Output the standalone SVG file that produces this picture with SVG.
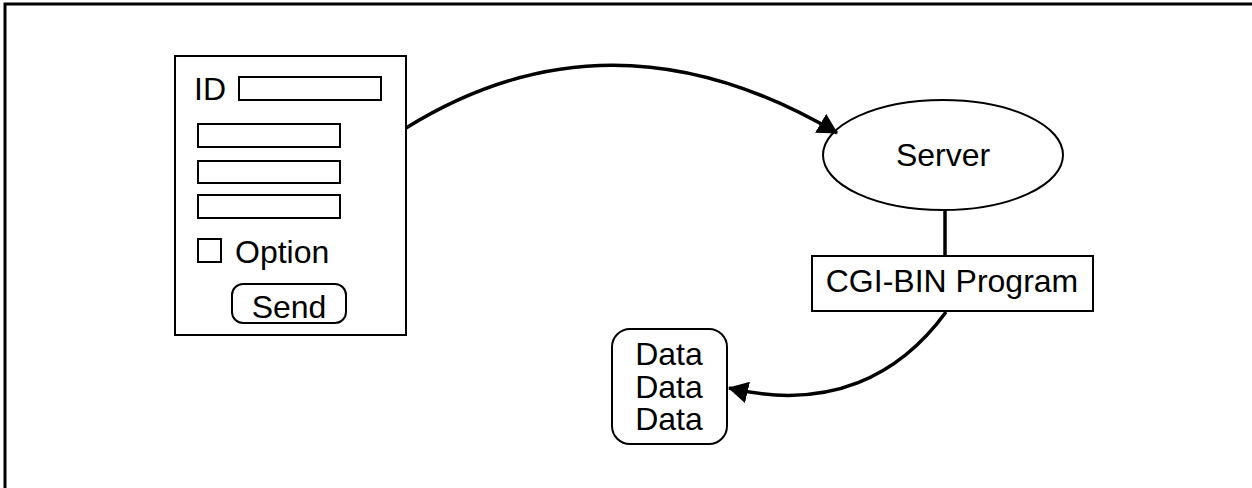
<svg xmlns="http://www.w3.org/2000/svg" width="1252" height="488" viewBox="0 0 1252 488">
  <style>
    .box { fill: #fff; stroke: #000; stroke-width: 2; }
    .field { fill: #fff; stroke: #000; stroke-width: 2; }
    .lbl { font-family: "Liberation Sans", Arial, sans-serif; font-size: 32px; fill: #000; }
    .mid { text-anchor: middle; }
    .wire { fill: none; stroke: #000; stroke-width: 3.5; }
  </style>
  <defs>
    <marker id="arrow" viewBox="0 0 20 22" refX="19" refY="11" markerWidth="20" markerHeight="22" markerUnits="userSpaceOnUse" orient="auto">
      <path d="M0,0 L20,11 L0,22 Z" fill="#000"/>
    </marker>
  </defs>

  <rect width="1252" height="488" fill="#fff"/>
  <!-- frame -->
  <rect x="5" y="4" width="1270" height="510" fill="none" stroke="#000" stroke-width="3"/>

  <!-- web form -->
  <g id="form">
    <rect class="box" x="175" y="56" width="231" height="279"/>
    <text class="lbl" x="194" y="100">ID</text>
    <rect class="field" x="239" y="77" width="142" height="23"/>
    <rect class="field" x="198" y="124" width="142" height="23"/>
    <rect class="field" x="198" y="161" width="142" height="22"/>
    <rect class="field" x="198" y="195" width="142" height="23"/>
    <rect class="field" x="198" y="239" width="23" height="23"/>
    <text class="lbl" x="235" y="263">Option</text>
    <rect class="field" x="232" y="284" width="114" height="39" rx="11" ry="11"/>
    <text class="lbl mid" x="289" y="318">Send</text>
  </g>

  <g id="server">
    <ellipse class="box" cx="943" cy="155" rx="120" ry="55"/>
    <text class="lbl mid" x="943" y="166">Server</text>
  </g>

  <g id="cgi">
    <rect class="box" x="812" y="256" width="281" height="55"/>
    <text class="lbl mid" x="952" y="292">CGI-BIN Program</text>
  </g>

  <g id="data">
    <rect class="box" x="612" y="329" width="115" height="115" rx="18" ry="18"/>
    <text class="lbl mid" x="669" y="365">Data</text>
    <text class="lbl mid" x="669" y="398">Data</text>
    <text class="lbl mid" x="669" y="430">Data</text>
  </g>

  <g id="connectors">
    <path class="wire" d="M406,128 Q612,0 837,133" marker-end="url(#arrow)"/>
    <line class="wire" x1="945" y1="210" x2="945" y2="256"/>
    <path class="wire" d="M946,312 C900,375 830,412 729,388" marker-end="url(#arrow)"/>
  </g>
</svg>
